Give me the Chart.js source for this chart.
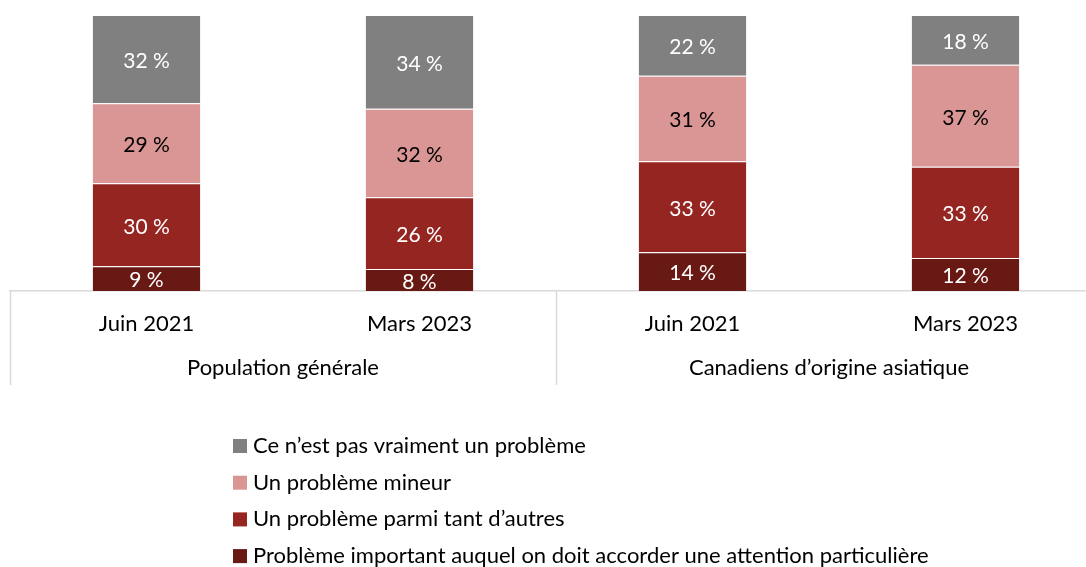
<!DOCTYPE html>
<html>
<head>
<meta charset="utf-8">
<script src="https://cdn.jsdelivr.net/npm/chart.js@4"></script>
<style>
  html, body { margin: 0; padding: 0; background: #fff; overflow: hidden; }
  #wrap { width: 1102px; height: 567px; position: relative; }
</style>
</head>
<body>
<div id="wrap"><canvas id="chart"></canvas></div>
<script>
const periods = ['Juin 2021', 'Mars 2023', 'Juin 2021', 'Mars 2023'];
const groups = ['Population générale', 'Canadiens d’origine asiatique'];
const seriesNames = [
    'Problème important auquel on doit accorder une attention particulière',
    'Un problème parmi tant d’autres',
    'Un problème mineur',
    'Ce n’est pas vraiment un problème'
];
const important = [9, 8, 14, 12];
const parmiAutres = [30, 26, 33, 33];
const mineur = [29, 32, 31, 37];
const pasVraiment = [32, 34, 22, 18];

const colors = ['#681914', '#952520', '#da9694', '#808080'];
const labelColors = ['#ffffff', '#ffffff', '#000000', '#ffffff'];
const FONT = 'Lato';
const FS = 22;

// valeurs dans les segments
const valueLabels = {
    id: 'valueLabels',
    afterDatasetsDraw(chart) {
        const ctx = chart.ctx;
        ctx.save();
        ctx.font = (FS - 1) + 'px ' + FONT;
        ctx.textAlign = 'center';
        ctx.textBaseline = 'middle';
        chart.data.datasets.forEach((ds, i) => {
            const meta = chart.getDatasetMeta(i);
            meta.data.forEach((bar, j) => {
                const p = bar.getProps(['x', 'y', 'base'], true);
                ctx.fillStyle = labelColors[i];
                ctx.fillText(ds.data[j] + ' %', p.x, (p.y + p.base) / 2 + 2);
            });
        });
        ctx.restore();
    }
};

// lignes de séparation des groupes + légende verticale
const groupLines = {
    id: 'groupLines',
    afterDraw(chart) {
        const ctx = chart.ctx;
        const x2 = chart.scales.x2;
        const half = (x2.getPixelForValue(1) - x2.getPixelForValue(0)) / 2;
        ctx.save();
        ctx.strokeStyle = '#d9d9d9';
        ctx.lineWidth = 1.5;
        for (let i = 0; i <= groups.length; i++) {
            const px = Math.round(x2.getPixelForValue(0) - half + i * 2 * half) + 0.5;
            ctx.beginPath();
            ctx.moveTo(px, chart.chartArea.bottom);
            ctx.lineTo(px, x2.bottom);
            ctx.stroke();
        }
        // légende
        ctx.font = FS + 'px ' + FONT;
        ctx.textAlign = 'left';
        ctx.textBaseline = 'middle';
        const n = seriesNames.length;
        for (let k = 0; k < n; k++) {
            const idx = n - 1 - k;
            const y = x2.bottom + 61 + k * 36.7;
            ctx.fillStyle = colors[idx];
            ctx.fillRect(233, y - 7, 14, 14);
            ctx.fillStyle = '#000000';
            ctx.fillText(seriesNames[idx], 253, y);
        }
        ctx.restore();
    }
};

const seriesValues = [important, parmiAutres, mineur, pasVraiment];

new Chart(document.getElementById('chart').getContext('2d'), {
    type: 'bar',
    data: {
        labels: periods,
        datasets: seriesValues.map((vals, i) => ({
            label: seriesNames[i],
            data: vals,
            backgroundColor: colors[i],
            borderColor: 'rgba(255,255,255,0.45)',
            borderWidth: 1,
            borderSkipped: 'bottom',
            barPercentage: 0.4,
            categoryPercentage: 1.0
        }))
    },
    options: {
        responsive: true,
        maintainAspectRatio: false,
        animation: false,
        layout: { padding: { top: 15, left: 10, right: 0, bottom: 182 } },
        plugins: {
            legend: { display: false },
            tooltip: { enabled: false }
        },
        scales: {
            x: {
                stacked: true,
                weight: 0,
                grid: { display: false, drawTicks: false },
                border: { display: true, color: '#d9d9d9', width: 1.5 },
                ticks: { color: '#000', font: { family: FONT, size: FS }, padding: 20, autoSkip: false, maxRotation: 0 },
                afterFit: s => { s.height = 52; }
            },
            x2: {
                type: 'category',
                position: 'bottom',
                labels: groups,
                offset: true,
                weight: 1,
                grid: { display: false, drawTicks: false },
                border: { display: false },
                ticks: { color: '#000', font: { family: FONT, size: FS }, padding: 12, autoSkip: false, maxRotation: 0 },
                afterFit: s => { s.height = 42; }
            },
            y: {
                stacked: true,
                display: false,
                min: 0,
                max: 100
            }
        }
    },
    plugins: [valueLabels, groupLines]
});
</script>
</body>
</html>
